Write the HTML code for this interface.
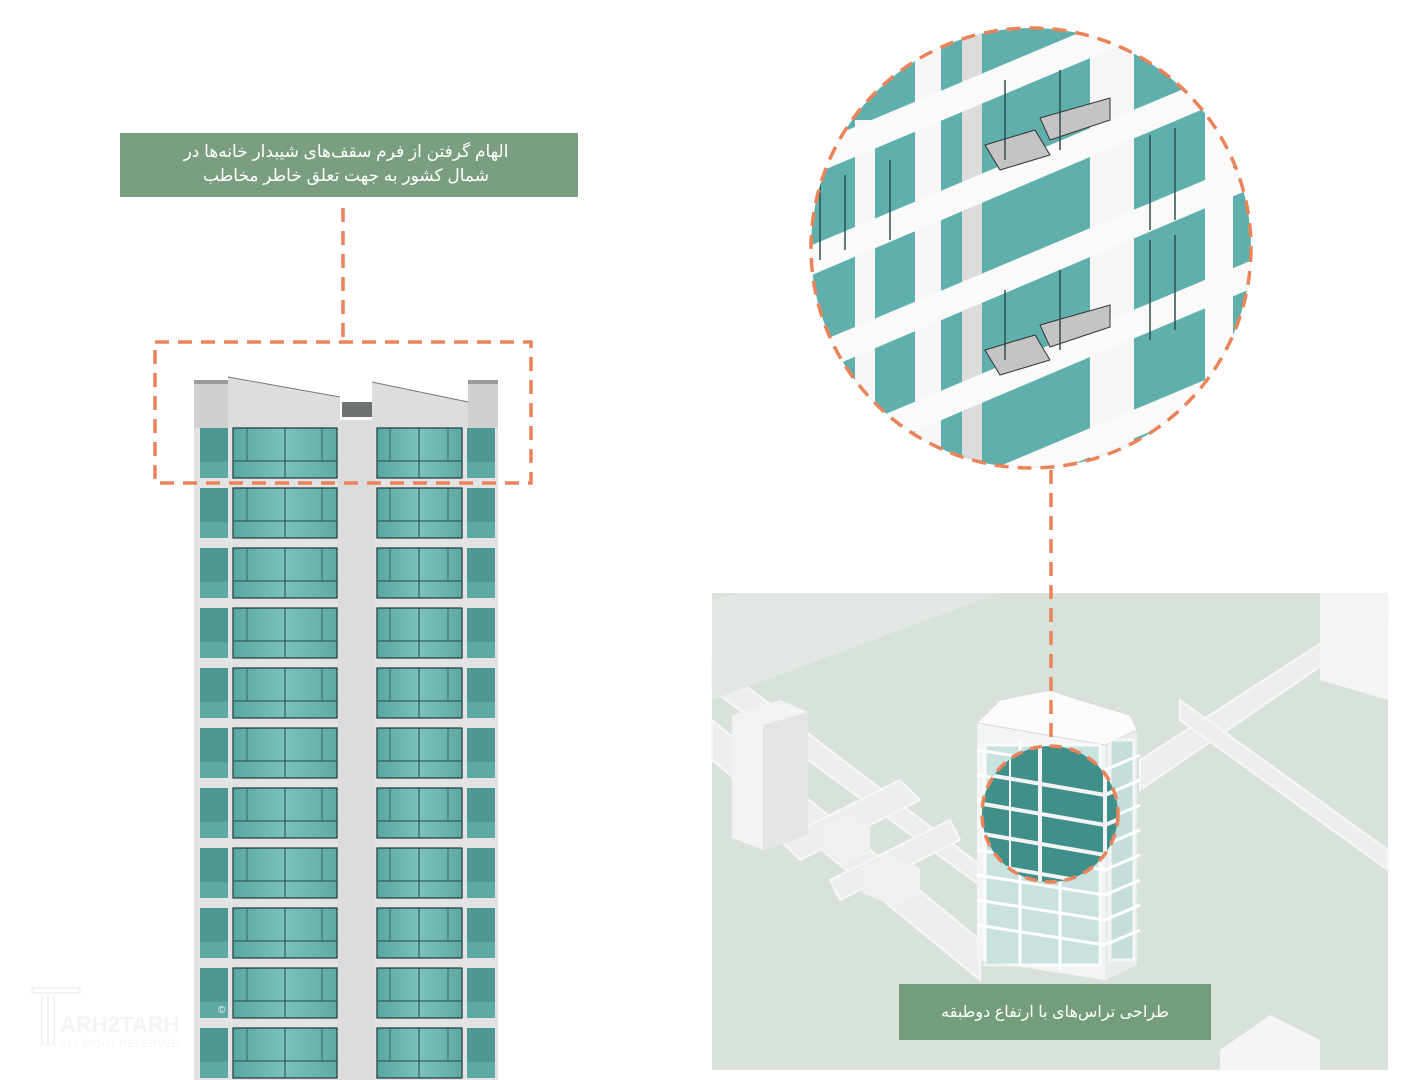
<!DOCTYPE html>
<html><head><meta charset="utf-8"><style>
html,body{margin:0;padding:0;background:#fff;width:1419px;height:1080px;overflow:hidden}
svg{display:block}
text{font-family:"Liberation Sans","DejaVu Sans",sans-serif}
</style></head><body>
<svg width="1419" height="1080" viewBox="0 0 1419 1080" xmlns="http://www.w3.org/2000/svg">
<defs>
<linearGradient id="gl" x1="0" x2="1"><stop offset="0" stop-color="#5aa7a3"/><stop offset="0.5" stop-color="#7bc1bd"/><stop offset="1" stop-color="#5ea9a5"/></linearGradient>
<g id="floor">
  <rect x="200" y="0" width="28" height="50" fill="#4f9793"/>
  <rect x="200" y="34" width="28" height="16" fill="#5fa9a5"/>
  <rect x="233" y="0" width="104" height="50" fill="url(#gl)" stroke="#1e3a3a" stroke-width="1.2"/>
  <line x1="233" y1="33" x2="337" y2="33" stroke="#2a4848" stroke-width="1"/>
  <line x1="285" y1="0" x2="285" y2="50" stroke="#2a4848" stroke-width="1"/>
  <line x1="247" y1="0" x2="247" y2="33" stroke="#2a4848" stroke-width="0.7"/>
  <line x1="322" y1="0" x2="322" y2="33" stroke="#2a4848" stroke-width="0.7"/>
  <rect x="377" y="0" width="85" height="50" fill="url(#gl)" stroke="#1e3a3a" stroke-width="1.2"/>
  <line x1="377" y1="33" x2="462" y2="33" stroke="#2a4848" stroke-width="1"/>
  <line x1="419" y1="0" x2="419" y2="50" stroke="#2a4848" stroke-width="1"/>
  <line x1="390" y1="0" x2="390" y2="33" stroke="#2a4848" stroke-width="0.7"/>
  <line x1="448" y1="0" x2="448" y2="33" stroke="#2a4848" stroke-width="0.7"/>
  <rect x="467" y="0" width="28" height="50" fill="#4f9793"/>
  <rect x="467" y="34" width="28" height="16" fill="#5fa9a5"/>
</g>
<clipPath id="bigc"><circle cx="1031" cy="248" r="220"/></clipPath>
<clipPath id="smc"><ellipse cx="1050" cy="814" rx="68" ry="68"/></clipPath>
</defs>

<rect x="194" y="420" width="304" height="660" fill="#e3e3e3"/>
<rect x="337" y="420" width="38" height="660" fill="#dcdcdc"/>
<rect x="194" y="382" width="34" height="46" fill="#cfcfcf"/>
<rect x="194" y="380" width="34" height="4" fill="#9a9a9a"/>
<polygon points="228,377 340,397 340,428 228,428" fill="#dddddd"/>
<line x1="228" y1="377" x2="340" y2="397" stroke="#777" stroke-width="1"/>
<rect x="342" y="402" width="30" height="15" fill="#6d7272"/>
<polygon points="372,382 468,402 468,428 372,428" fill="#dddddd"/>
<line x1="372" y1="382" x2="468" y2="402" stroke="#777" stroke-width="1"/>
<rect x="468" y="382" width="30" height="46" fill="#cfcfcf"/>
<rect x="468" y="380" width="30" height="4" fill="#9a9a9a"/>
<use href="#floor" y="428"/><use href="#floor" y="488"/><use href="#floor" y="548"/>
<use href="#floor" y="608"/><use href="#floor" y="668"/><use href="#floor" y="728"/>
<use href="#floor" y="788"/><use href="#floor" y="848"/><use href="#floor" y="908"/>
<use href="#floor" y="968"/><use href="#floor" y="1028"/>

<rect x="120" y="133" width="458" height="64" fill="#7a9e80"/>
<text x="346" y="157" fill="#fff" font-size="17" text-anchor="middle" font-family="DejaVu Sans, sans-serif" direction="rtl">الهام گرفتن از فرم سقف‌های شیبدار خانه‌ها در</text>
<text x="346" y="181" fill="#fff" font-size="17" text-anchor="middle" font-family="DejaVu Sans, sans-serif" direction="rtl">شمال کشور به جهت تعلق خاطر مخاطب</text>

<g stroke="#e9845a" stroke-width="3.5" fill="none" stroke-dasharray="14 9">
<line x1="343" y1="208" x2="343" y2="341"/>
<rect x="155" y="342" width="376" height="141"/>
</g>

<rect x="712" y="593" width="676" height="477" fill="#d9e1db"/>
<g fill="#eeeeee" stroke="#f7f7f7" stroke-width="2">
<polygon points="712,660 1000,880 1000,900 712,690"/>
<polygon points="712,720 980,940 980,980 712,760"/>
<polygon points="1140,760 1388,600 1388,620 1140,790"/>
<polygon points="1180,700 1388,850 1388,870 1180,720"/>
<polygon points="780,840 900,780 920,800 800,860"/>
<polygon points="830,880 950,820 960,840 840,900"/>
</g>
<polygon points="712,600 740,593 1000,593 712,700" fill="#e1e7e2"/>
<polygon points="1320,593 1388,593 1388,700 1320,680" fill="#f4f4f4"/>
<polygon points="732,715 780,700 808,712 808,835 763,850 732,838" fill="#f2f2f2"/>
<polygon points="763,725 808,712 808,835 763,850" fill="#e4e4e4"/>
<polygon points="822,826 845,816 870,826 870,853 846,862 822,852" fill="#f0f0f0"/>
<polygon points="862,868 892,856 920,868 920,895 892,905 862,893" fill="#f0f0f0"/>
<polygon points="1220,1050 1270,1015 1320,1040 1320,1070 1220,1070" fill="#f5f5f5"/>

<polygon points="977,723 1105,745 1137,730 1137,965 1105,980 977,960" fill="#f3f5f4"/>
<polygon points="1105,745 1137,730 1137,965 1105,980" fill="#e8ecea"/>
<polygon points="977,723 1000,700 1050,690 1080,700 1130,715 1137,730 1105,745" fill="#fbfbfb" stroke="#d8d8d8"/>
<g stroke="#ffffff" stroke-width="3">
<g fill="#a9d3cf">
<rect x="985" y="745" width="115" height="220" opacity="0.55"/>
<rect x="1110" y="740" width="24" height="220" opacity="0.55"/>
</g>
<line x1="977" y1="750" x2="1105" y2="770"/><line x1="977" y1="775" x2="1105" y2="795"/>
<line x1="977" y1="800" x2="1105" y2="820"/><line x1="977" y1="825" x2="1105" y2="845"/>
<line x1="977" y1="850" x2="1105" y2="870"/><line x1="977" y1="875" x2="1105" y2="895"/>
<line x1="977" y1="900" x2="1105" y2="920"/><line x1="977" y1="925" x2="1105" y2="945"/>
<line x1="1105" y1="770" x2="1140" y2="755"/><line x1="1105" y1="795" x2="1140" y2="780"/>
<line x1="1105" y1="820" x2="1140" y2="805"/><line x1="1105" y1="845" x2="1140" y2="830"/>
<line x1="1105" y1="870" x2="1140" y2="855"/><line x1="1105" y1="895" x2="1140" y2="880"/>
<line x1="1105" y1="920" x2="1140" y2="905"/><line x1="1105" y1="945" x2="1140" y2="930"/>
<line x1="1020" y1="740" x2="1020" y2="965"/><line x1="1060" y1="745" x2="1060" y2="970"/>
</g>
<g clip-path="url(#smc)">
<rect x="980" y="745" width="140" height="140" fill="#3f8f8a"/>
<g stroke="#f4f4f4" stroke-width="4">
<line x1="960" y1="770" x2="1105" y2="795"/><line x1="960" y1="800" x2="1105" y2="825"/>
<line x1="960" y1="830" x2="1105" y2="855"/><line x1="960" y1="860" x2="1105" y2="885"/>
<line x1="1105" y1="795" x2="1140" y2="780"/><line x1="1105" y1="825" x2="1140" y2="810"/>
<line x1="1105" y1="855" x2="1140" y2="840"/>
<line x1="1040" y1="745" x2="1040" y2="885"/><line x1="1105" y1="745" x2="1105" y2="885"/>
<line x1="1010" y1="745" x2="1010" y2="885" stroke-width="2"/>
</g>
</g>
<ellipse cx="1050" cy="814" rx="68" ry="68" fill="none" stroke="#e9845a" stroke-width="3.5" stroke-dasharray="12 8"/>

<rect x="899" y="984" width="312" height="56" fill="#6f9a76" opacity="0.95"/>
<text x="1055" y="1017" fill="#fff" font-size="16" text-anchor="middle" font-family="DejaVu Sans, sans-serif" direction="rtl">طراحی تراس‌های با ارتفاع دوطبقه</text>

<g clip-path="url(#bigc)">
<rect x="805" y="25" width="455" height="450" fill="#5fb0ac"/>
<g fill="#f6f6f6">
<rect x="915" y="25" width="26" height="450"/>
<rect x="1090" y="25" width="44" height="450"/>
<rect x="1205" y="25" width="28" height="450" fill="#fafafa"/>
<rect x="962" y="25" width="20" height="450" fill="#dcdcdc"/>
<rect x="855" y="120" width="20" height="360"/>
</g>
<g fill="#fafafa">
<polygon points="800,150 1300,-60 1300,-30 800,180"/>
<polygon points="800,250 1300,40 1300,68 800,280"/>
<polygon points="800,350 1300,140 1300,168 800,380"/>
<polygon points="800,450 1300,240 1300,268 800,480"/>
<polygon points="800,550 1300,340 1300,368 800,580"/>
</g>
<g fill="#c4c4c4" stroke="#333" stroke-width="1">
<polygon points="985,145 1035,130 1050,155 1000,170"/>
<polygon points="985,350 1035,335 1050,360 1000,375"/>
<polygon points="1040,118 1110,98 1110,120 1050,140"/>
<polygon points="1040,325 1110,305 1110,327 1050,347"/>
</g>
<g stroke="#2e4f4f" stroke-width="1.5" fill="none">
<line x1="1150" y1="135" x2="1150" y2="230"/><line x1="1175" y1="128" x2="1175" y2="220"/>
<line x1="1150" y1="240" x2="1150" y2="340"/><line x1="1175" y1="235" x2="1175" y2="330"/>
<line x1="820" y1="180" x2="820" y2="260"/><line x1="845" y1="175" x2="845" y2="250"/>
<line x1="890" y1="160" x2="890" y2="240"/><line x1="1005" y1="80" x2="1005" y2="160"/>
<line x1="1060" y1="70" x2="1060" y2="150"/><line x1="1005" y1="290" x2="1005" y2="360"/>
<line x1="1060" y1="270" x2="1060" y2="350"/>
</g>
</g>
<circle cx="1031" cy="248" r="220" fill="none" stroke="#e9845a" stroke-width="3.5" stroke-dasharray="14 9"/>
<line x1="1051" y1="470" x2="1051" y2="745" stroke="#e9845a" stroke-width="3.5" stroke-dasharray="14 9"/>

<g fill="none" stroke="#f2f2f2" stroke-width="2" opacity="0.9">
<rect x="32" y="988" width="48" height="5"/>
<line x1="42" y1="995" x2="42" y2="1046"/><line x1="48" y1="995" x2="48" y2="1046"/><line x1="54" y1="995" x2="54" y2="1046"/>
</g>
<text x="60" y="1032" fill="#f3f3f3" font-size="22" font-weight="bold" opacity="0.9">ARH2TARH</text>
<text x="60" y="1047" fill="#f3f3f3" font-size="11" opacity="0.9">ALL RIGHT RESERVED</text>
<text x="218" y="1013" fill="#f3f3f3" font-size="10">©</text>
</svg>
</body></html>
